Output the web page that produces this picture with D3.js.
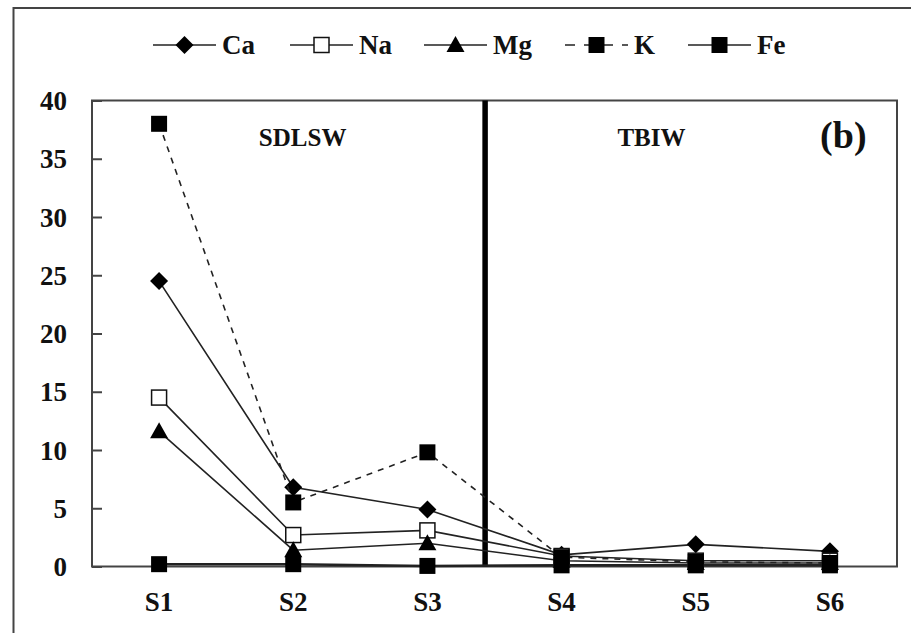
<!DOCTYPE html>
<html><head><meta charset="utf-8">
<script src="https://cdn.jsdelivr.net/npm/d3@7"></script>
<style>
body{margin:0;background:#fff;}
svg text{font-family:"Liberation Serif","Times New Roman",Tinos,"DejaVu Serif",serif !important;font-weight:bold;fill:#111;}
</style>
</head><body>
<svg id="c" width="911" height="633" style='font-family:"Liberation Serif","Times New Roman","DejaVu Serif",serif'></svg>
<script>
// ---- data ----
const categories = ["S1","S2","S3","S4","S5","S6"];
const seriesNames = ["Ca","Na","Mg","K","Fe"];
const caValues = [24.5, 6.8, 4.9, 1.0, 1.9, 1.3];
const naValues = [14.5, 2.7, 3.1, 0.9, 0.5, 0.5];
const mgValues = [11.6, 1.4, 2.0, 0.5, 0.3, 0.3];
const kValues  = [38.0, 5.5, 9.8, 0.8, 0.4, 0.3];
const feValues = [0.2, 0.2, 0.05, 0.1, 0.1, 0.1];
const yTickValues = [0,5,10,15,20,25,30,35,40];
const groupLabels = ["SDLSW","TBIW"];
const panelLabel = "(b)";

// ---- layout ----
const FONT = '"Liberation Serif","Times New Roman","DejaVu Serif",serif';
const W = 911, H = 633;
const L = 92, R = 897, T = 100.5, B = 566.5;
const svg = d3.select("#c");

const x = d3.scaleBand().domain(categories).range([L, R]).padding(0);
const xc = c => x(c) + x.bandwidth()/2;
const xi = d3.scaleLinear().domain([0, categories.length]).range([L, R]);
const y = d3.scaleLinear().domain([0, 40]).range([B, T]);

// outer frame
svg.append("rect").attr("x",13.5).attr("y",8).attr("width",W+10).attr("height",H+10)
  .attr("fill","none").attr("stroke","#444").attr("stroke-width",2);

// plot frame
svg.append("rect").attr("x",L).attr("y",T).attr("width",R-L).attr("height",B-T)
  .attr("fill","none").attr("stroke","#444").attr("stroke-width",2);

// y axis
const ya = svg.append("g").attr("transform",`translate(${L},0)`)
  .call(d3.axisLeft(y).tickValues(yTickValues).tickSizeInner(-10).tickSizeOuter(0).tickPadding(25));
ya.attr("font-family", FONT);
ya.select(".domain").remove();
ya.selectAll(".tick line").attr("stroke","#444").attr("stroke-width",2);
ya.selectAll(".tick text").attr("font-size",27).attr("font-family",FONT).attr("font-weight","bold")
  .attr("fill","#111").attr("dy","0.34em");

// x axis
const xa = svg.append("g").attr("transform",`translate(0,${B})`)
  .call(d3.axisBottom(x).tickSize(0).tickPadding(25));
xa.attr("font-family", FONT);
xa.select(".domain").remove();
xa.selectAll(".tick text").attr("font-size",27).attr("font-family",FONT).attr("font-weight","bold").attr("fill","#111");

// divider
svg.append("line").attr("x1",xi(2.93)).attr("x2",xi(2.93)).attr("y1",T).attr("y2",B)
  .attr("stroke","#000").attr("stroke-width",5.5);

// group labels
function label(txt, px, py, size){
  svg.append("text").attr("x",px).attr("y",py).attr("text-anchor","middle")
    .attr("font-family",FONT).attr("font-weight","bold").attr("font-size",size).text(txt);
}
label(groupLabels[0], xi(1.57), T+45, 25);
label(groupLabels[1], xi(4.17), T+45, 25);
label(panelLabel, xi(5.6), T+47, 38);

// series
const series = [
  {name:"Ca", values:caValues, marker:"diamond", dash:null},
  {name:"Na", values:naValues, marker:"open-square", dash:null},
  {name:"Mg", values:mgValues, marker:"triangle", dash:null},
  {name:"K",  values:kValues,  marker:"square", dash:"6,6"},
  {name:"Fe", values:feValues, marker:"square", dash:null}
];

function drawMarker(g, type, cx, cy){
  if(type==="diamond"){
    g.append("path").attr("d",`M${cx},${cy-9}L${cx+9},${cy}L${cx},${cy+9}L${cx-9},${cy}Z`).attr("fill","#000");
  } else if(type==="open-square"){
    g.append("rect").attr("x",cx-7.5).attr("y",cy-7.5).attr("width",15).attr("height",15)
      .attr("fill","#fff").attr("stroke","#111").attr("stroke-width",1.5);
  } else if(type==="triangle"){
    g.append("path").attr("d",`M${cx},${cy-9}L${cx+9},${cy+7}L${cx-9},${cy+7}Z`).attr("fill","#000");
  } else {
    g.append("rect").attr("x",cx-8).attr("y",cy-8).attr("width",16).attr("height",16).attr("fill","#000");
  }
}

const line = d3.line().x((d,i)=>xc(categories[i])).y(d=>y(d));
series.forEach(s=>{
  const g = svg.append("g");
  g.append("path").attr("d",line(s.values)).attr("fill","none")
    .attr("stroke","#222").attr("stroke-width", s.name==="Fe"?2.5:1.6)
    .attr("stroke-dasharray", s.dash);
  s.values.forEach((v,i)=>drawMarker(g, s.marker, xc(categories[i]), y(v)));
});

// legend
const legendX = [153, 290, 424, 565, 688];
const leg = svg.append("g");
series.forEach((s,i)=>{
  const lx = legendX[i], ly = 45, lw = 63;
  leg.append("line").attr("x1",lx).attr("x2",lx+lw).attr("y1",ly).attr("y2",ly)
    .attr("stroke","#222").attr("stroke-width",1.6).attr("stroke-dasharray", s.dash? "10,9":null);
  drawMarker(leg, s.marker, lx+lw/2, ly);
  leg.append("text").attr("x",lx+lw+6).attr("y",ly).attr("dy","0.35em")
    .attr("font-family",FONT).attr("font-weight","bold").attr("font-size",27).text(s.name);
});
</script>
</body></html>
